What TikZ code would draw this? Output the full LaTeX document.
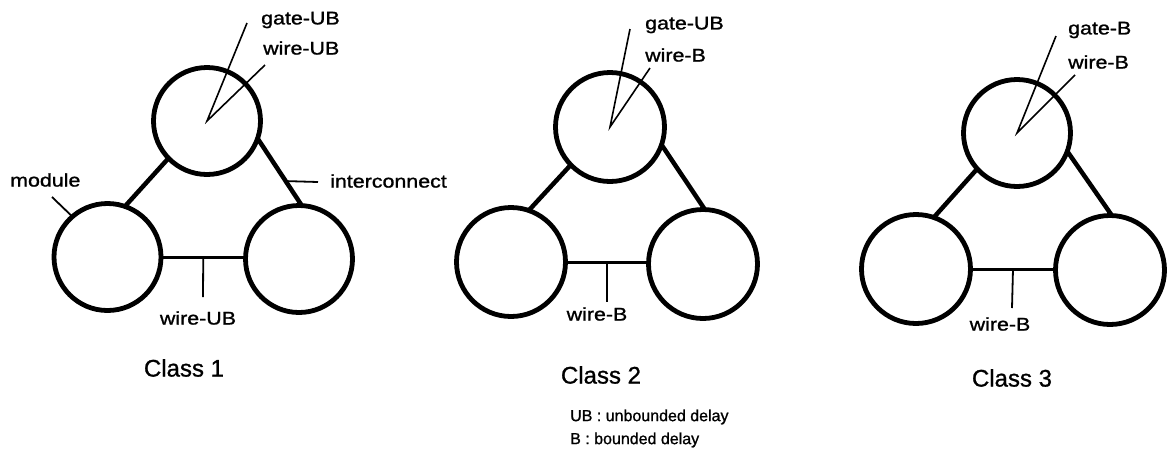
\documentclass[tikz,border=0pt]{standalone}
\usepackage{fontspec}
\setmainfont[FakeBold=1]{Liberation Sans}
\newfontfamily\lblfont[FakeStretch=1.17,FakeBold=1.2]{Liberation Sans}
\tikzset{
  module/.style={circle, draw, line width=4.8pt, minimum size=107pt, inner sep=0pt, outer sep=0pt},
  link/.style={line width=4.5pt},
  wire/.style={line width=3pt},
  tick/.style={line width=1.8pt},
  pointer/.style={line width=1.6pt, line join=miter},
  lbl/.style={font=\lblfont\fontsize{18.3}{20}\selectfont, inner sep=0pt},
  cls/.style={font=\fontsize{24}{26}\selectfont, inner sep=0pt},
  key/.style={font=\fontsize{16}{18}\selectfont, inner sep=0pt, anchor=west}
}
\begin{document}
\begin{tikzpicture}[x=1pt, y=-1pt]
\useasboundingbox (0,0) rectangle (1168,459);

% ---------- Class 1 ----------
\node[module] (T1) at (207,121) {};
\node[module] (L1) at (107.5,257) {};
\node[module] (R1) at (299,259) {};
\draw[link] (T1.224) -- (L1.71);
\draw[link] (T1.-19) -- coordinate[pos=0.635] (ic1) (R1.87);
\draw[wire] (L1.east) -- coordinate[pos=0.5] (m1) (L1.east -| R1.west);
\coordinate (t1) at (203,297);
\draw[tick] (m1) -- (t1);
\node[lbl] (w1) at (198,318) {wire-UB};
\coordinate (g1) at (247,23);
\coordinate (h1) at (265,65);
\draw[pointer] (g1) -- (T1.center) -- (h1);
\node[lbl, anchor=west] (gl1) at (261,20) {gate-UB};
\node[lbl, anchor=west] (wl1) at (263,48) {wire-UB};
\node[lbl, anchor=west] (mod) at (10,180) {module};
\coordinate (modt) at (52,197);
\draw[tick] (modt) -- (L1.131);
\coordinate (ict) at (318,182);
\draw[tick] (ic1) -- (ict);
\node[lbl, anchor=west] (icl) at (330,181) {interconnect};
\node[cls] (c1) at (184,368) {Class 1};

% ---------- Class 2 ----------
\node[module, minimum size=109pt] (T2) at (610,127) {};
\node[module, minimum size=109pt] (L2) at (511,262) {};
\node[module, minimum size=109pt] (R2) at (703,264) {};
\draw[link] (T2.224) -- (L2.71);
\draw[link] (T2.-19) -- (R2.88);
\draw[wire] (L2.east) -- coordinate[pos=0.5] (m2) (L2.east -| R2.west);
\coordinate (t2) at (607,302);
\draw[tick] (m2) -- (t2);
\node[lbl] (w2) at (597,314) {wire-B};
\coordinate (g2) at (630,29);
\coordinate (h2) at (650,68);
\draw[pointer] (g2) -- (T2.center) -- (h2);
\node[lbl, anchor=west] (gl2) at (645,25) {gate-UB};
\node[lbl, anchor=west] (wl2) at (645,55) {wire-B};
\node[cls] (c2) at (601,375) {Class 2};
\node[key] (k1) at (570,417) {UB : unbounded delay};
\node[key] (k2) at (570,440) {B : bounded delay};

% ---------- Class 3 ----------
\node[module] (T3) at (1017,133) {};
\node[module, minimum size=109pt] (L3) at (916,269) {};
\node[module, minimum size=109pt] (R3) at (1110,270) {};
\draw[link] (T3.222) -- (L3.71);
\draw[link] (T3.-20) -- (R3.88);
\draw[wire] (L3.east) -- coordinate[pos=0.5] (m3) (L3.east -| R3.west);
\coordinate (t3) at (1012,308);
\draw[tick] (m3) -- (t3);
\node[lbl] (w3) at (1000,324) {wire-B};
\coordinate (g3) at (1056,36);
\coordinate (h3) at (1075,75);
\draw[pointer] (g3) -- (T3.center) -- (h3);
\node[lbl, anchor=west] (gl3) at (1068,30) {gate-B};
\node[lbl, anchor=west] (wl3) at (1068,62) {wire-B};
\node[cls] (c3) at (1012,378) {Class 3};
\end{tikzpicture}
\end{document}
